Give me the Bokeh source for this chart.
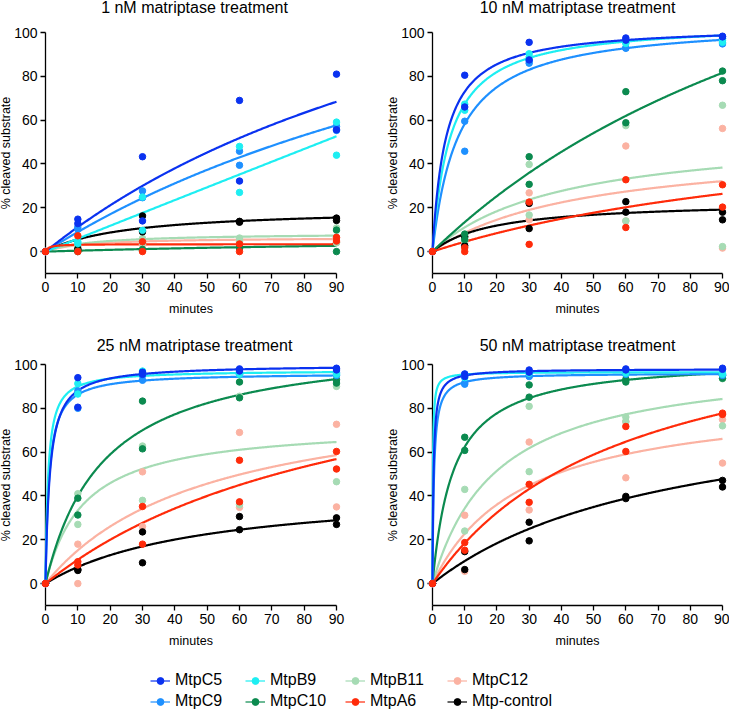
import numpy as np
from bokeh.plotting import figure
from bokeh.models import Range1d, Legend, LegendItem, FixedTicker
from bokeh.core.properties import value
from bokeh.layouts import column, row
from bokeh.embed import file_html
from bokeh.resources import INLINE

FONT = "Liberation Sans"

# ---------------- data ----------------
times = [0, 10, 30, 60, 90]
series = ["MtpC5", "MtpC9", "MtpB9", "MtpC10", "MtpB11", "MtpA6", "MtpC12", "Mtp-control"]
colors = {
    "MtpC5": "#0a32f0", "MtpC9": "#1e90ff", "MtpB9": "#1eeef2", "MtpC10": "#0b8a4f",
    "MtpB11": "#a6dbb4", "MtpA6": "#ff2b0a", "MtpC12": "#fbb2a2", "Mtp-control": "#000000",
}
panel_titles = ["1 nM matriptase treatment", "10 nM matriptase treatment",
                "25 nM matriptase treatment", "50 nM matriptase treatment"]

# replicate measurements (% cleaved substrate) at times 0,10,30,60,90 min
pts_1nM = {
    "MtpC5": [[0, 14.8, 43.3, 69.0, 81.0], [0, 12.8, 14.0, 32.2, 55.6]],
    "MtpC9": [[0, 11.2, 27.7, 45.8, 57.2], [0, 10.2, 24.6, 39.4, 55.3]],
    "MtpB9": [[0, 3.7, 24.9, 48.0, 59.1], [0, 4.5, 9.7, 27.0, 44.0]],
    "MtpC10": [[0, 0.3, 1.0, 2.0, 9.8], [0, 0.0, 0.5, 1.5, 0.0]],
    "MtpB11": [[0, 2.5, 6.0, 6.2, 10.8], [0, 1.5, 4.0, 4.5, 4.0]],
    "MtpA6": [[0, 7.2, 4.5, 3.5, 6.5], [0, 0.0, 0.0, 0.0, 4.8]],
    "MtpC12": [[0, 2.0, 5.0, 5.5, 6.2], [0, 1.0, 3.2, 4.0, 4.2]],
    "Mtp-control": [[0, 1.2, 16.3, 13.8, 15.3], [0, 0.6, 9.0, 13.4, 14.2]],
}
pts_10nM = {
    "MtpC5": [[0, 80.5, 95.5, 97.5, 98.3], [0, 66.0, 87.5, 96.5, 98.0]],
    "MtpC9": [[0, 59.5, 86.0, 93.0, 94.8], [0, 45.8, 87.0, 92.8, 97.2]],
    "MtpB9": [[0, 67.3, 90.3, 95.5, 96.5], [0, 64.5, 88.8, 95.0, 95.5]],
    "MtpC10": [[0, 8.0, 43.3, 73.0, 82.4], [0, 5.5, 30.7, 58.8, 78.0]],
    "MtpB11": [[0, 6.5, 39.8, 57.5, 66.8], [0, 5.0, 16.7, 14.0, 2.3]],
    "MtpA6": [[0, 1.8, 22.6, 32.8, 30.5], [0, 0.0, 3.3, 11.0, 20.3]],
    "MtpC12": [[0, 7.5, 26.8, 48.2, 56.2], [0, 4.0, 14.5, 14.0, 1.6]],
    "Mtp-control": [[0, 6.8, 22.0, 22.8, 18.0], [0, 2.7, 10.5, 18.0, 14.5]],
}
pts_25nM = {
    "MtpC5": [[0, 94.0, 96.5, 98.0, 98.3], [0, 80.5, 95.5, 97.0, 97.5]],
    "MtpC9": [[0, 88.0, 92.8, 95.5, 95.0], [0, 80.0, 95.0, 96.0, 96.5]],
    "MtpB9": [[0, 91.3, 97.0, 96.5, 96.0], [0, 86.5, 96.0, 95.5, 95.5]],
    "MtpC10": [[0, 39.0, 83.3, 92.0, 93.0], [0, 31.3, 61.5, 84.8, 91.5]],
    "MtpB11": [[0, 41.0, 62.8, 85.5, 90.0], [0, 27.0, 38.0, 36.0, 46.5]],
    "MtpA6": [[0, 10.0, 35.2, 56.3, 60.3], [0, 8.5, 18.0, 37.3, 52.3]],
    "MtpC12": [[0, 18.0, 51.0, 69.0, 72.7], [0, 0.0, 26.0, 34.8, 35.0]],
    "Mtp-control": [[0, 6.0, 23.6, 30.6, 30.0], [0, 6.5, 9.5, 24.6, 27.0]],
}
pts_50nM = {
    "MtpC5": [[0, 95.7, 97.5, 98.0, 98.3], [0, 94.5, 96.5, 97.5, 97.8]],
    "MtpC9": [[0, 91.6, 95.0, 96.0, 95.5], [0, 91.0, 94.5, 95.5, 95.0]],
    "MtpB9": [[0, 95.5, 96.5, 97.0, 96.0], [0, 94.0, 96.0, 96.0, 95.5]],
    "MtpC10": [[0, 66.8, 90.7, 93.2, 95.0], [0, 60.8, 85.1, 92.0, 93.7]],
    "MtpB11": [[0, 43.0, 80.9, 76.0, 93.5], [0, 24.0, 51.1, 74.0, 72.0]],
    "MtpA6": [[0, 18.7, 45.3, 71.7, 77.8], [0, 15.2, 37.1, 60.3, 77.2]],
    "MtpC12": [[0, 31.2, 64.6, 73.9, 74.9], [0, 5.6, 33.6, 48.3, 55.0]],
    "Mtp-control": [[0, 14.6, 28.0, 39.8, 47.1], [0, 6.4, 19.5, 38.8, 44.1]],
}

# fitted hyperbolic curves: Y = Bmax * t / (K + t)   -> (Bmax, K)
fit_1nM = {"MtpC5": (190, 160), "MtpC9": (180.6, 192), "MtpB9": (5900, 10000),
           "MtpC10": (8, 180), "MtpB11": (8.5, 15), "MtpA6": (3.4, 1.0),
           "MtpC12": (6.5, 12), "Mtp-control": (20, 26)}
fit_10nM = {"MtpC5": (103.2, 4.14), "MtpC9": (105.3, 8.06), "MtpB9": (104.7, 5.54),
            "MtpC10": (223, 156), "MtpB11": (55.5, 40.2), "MtpA6": (67.4, 140),
            "MtpC12": (49.1, 47.5), "Mtp-control": (23.2, 19)}
fit_25nM = {"MtpC5": (100, 1.36), "MtpC9": (96.2, 1.15), "MtpB9": (97.4, 0.82),
            "MtpC10": (112, 18), "MtpB11": (73.2, 11.93), "MtpA6": (120, 100),
            "MtpC12": (91.2, 50), "Mtp-control": (44.5, 48.6)}
fit_50nM = {"MtpC5": (98, 0.32), "MtpC9": (96.1, 0.45), "MtpB9": (96.6, 0.12),
            "MtpC10": (103, 6.5), "MtpB11": (103, 20), "MtpA6": (129.5, 60),
            "MtpC12": (86.6, 28), "Mtp-control": (87.2, 74.7)}

draw_order = ["MtpC12", "MtpB11", "Mtp-control", "MtpC10", "MtpC9", "MtpB9", "MtpC5", "MtpA6"]
t_curve = np.concatenate([np.linspace(0, 3, 300), np.linspace(3, 90, 400)[1:]])


def make_panel(title, pts, fit, width, height, bl, br, bt, bb, title_off, title_dx):
    p = figure(width=width, height=height, x_range=Range1d(0, 90), y_range=Range1d(-10, 100),
               output_backend="svg", toolbar_location=None,
               min_border_left=bl, min_border_right=br, min_border_top=bt, min_border_bottom=bb)
    p.outline_line_color = None
    p.grid.visible = False
    p.background_fill_color = "white"
    p.border_fill_color = "white"
    p.xaxis.ticker = FixedTicker(ticks=[0, 10, 20, 30, 40, 50, 60, 70, 80, 90])
    p.yaxis.ticker = FixedTicker(ticks=[0, 20, 40, 60, 80, 100])
    p.xaxis.axis_label = "minutes"
    for ax in (p.xaxis[0], p.yaxis[0]):
        ax.axis_line_width = 1.3
        ax.axis_line_color = "black"
        ax.major_tick_line_width = 1.3
        ax.major_tick_line_color = "black"
        ax.major_tick_in = 0
        ax.major_tick_out = 5
        ax.minor_tick_line_color = None
        ax.major_label_text_font = FONT
        ax.major_label_text_font_size = "14px"
        ax.major_label_text_color = "black"
        ax.major_label_standoff = 3
        ax.axis_label_text_font = FONT
        ax.axis_label_text_font_size = "12.5px"
        ax.axis_label_text_font_style = "normal"
        ax.axis_label_text_color = "black"
        ax.axis_label_standoff = 7

    for name in draw_order:
        bmax, k = fit[name]
        yc = bmax * t_curve / (k + t_curve)
        r = p.line(t_curve, yc, line_color=colors[name], line_width=2.2)
        r.level = "overlay"
    for name in draw_order:
        xs, ys = [], []
        for rep in pts[name]:
            xs += times
            ys += rep
        r = p.scatter(xs, ys, size=6.5, fill_color=colors[name], line_color=colors[name])
        r.level = "overlay"

    # panel title and y-axis label as text glyphs (unclipped overlay level)
    t = p.text(x=[45], y=[100], text=[title], text_align="center", text_baseline="alphabetic",
               x_offset=title_dx, y_offset=-title_off, text_font=value(FONT),
               text_font_size=value("16px"), text_color="black")
    t.level = "overlay"
    yl = p.text(x=[0], y=[45], text=["% cleaved substrate"], angle=np.pi / 2,
                text_align="center", text_baseline="middle", x_offset=-40,
                text_font=value(FONT), text_font_size=value("12.5px"), text_color="black")
    yl.level = "overlay"
    return p


p1 = make_panel(panel_titles[0], pts_1nM, fit_1nM, 364, 320, 45, 28, 32, 47, 25, 3.5)
p2 = make_panel(panel_titles[1], pts_10nM, fit_10nM, 365, 320, 68, 7, 32, 47, 25, 0)
p3 = make_panel(panel_titles[2], pts_25nM, fit_25nM, 364, 330, 45, 28, 44, 45, 19, 3.5)
p4 = make_panel(panel_titles[3], pts_50nM, fit_50nM, 365, 330, 68, 7, 44, 45, 19, 0)

# legend figure (legend renderers sit outside the visible range)
lf = figure(width=729, height=61, x_range=Range1d(0, 1), y_range=Range1d(0, 1),
            output_backend="svg", toolbar_location=None, x_axis_type=None, y_axis_type=None,
            min_border_left=0, min_border_right=0, min_border_top=0, min_border_bottom=0)
lf.outline_line_color = None
lf.grid.visible = False
handles = {}
for name in series:
    lr = lf.line([-5, -4], [-5, -4], line_color=colors[name], line_width=1.2)
    sr = lf.scatter([-5], [-5], size=7, fill_color=colors[name], line_color=colors[name])
    handles[name] = [lr, sr]

legend_cols = [["MtpC5", "MtpC9"], ["MtpB9", "MtpC10"], ["MtpB11", "MtpA6"], ["MtpC12", "Mtp-control"]]
legend_x = [150, 245, 345, 447]
for names, lx in zip(legend_cols, legend_x):
    lg = Legend(items=[LegendItem(label=n, renderers=handles[n]) for n in names],
                location=(lx, 0), orientation="vertical", glyph_width=20, glyph_height=17,
                label_standoff=5, spacing=1, padding=0, margin=0, border_line_color=None,
                background_fill_alpha=0, label_text_font=FONT, label_text_font_size="16px",
                label_text_color="black", label_height=20)
    lf.add_layout(lg)

layout = column(row(p1, p2), row(p3, p4), lf)
open("out.html", "w").write(file_html(layout, INLINE))
